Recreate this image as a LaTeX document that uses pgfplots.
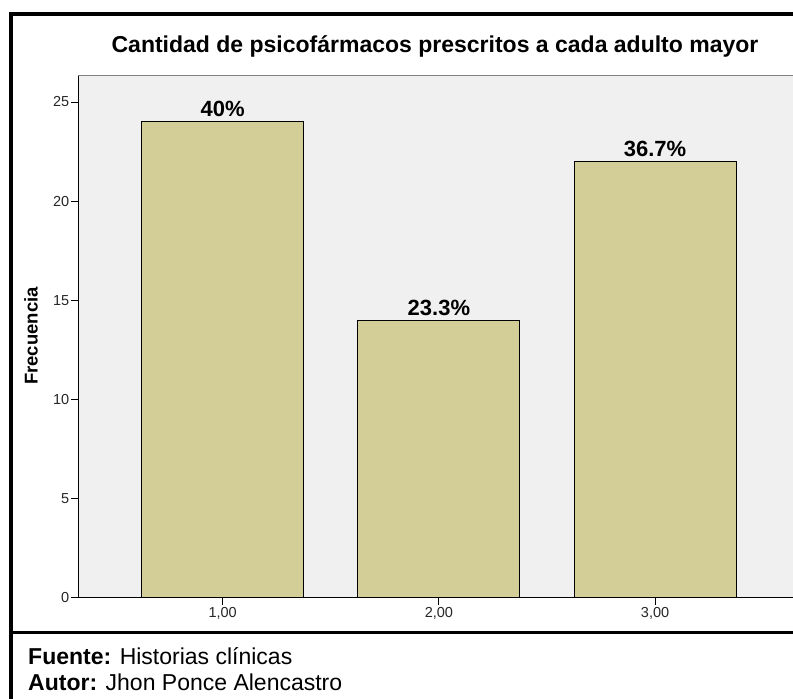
\documentclass[border=0pt]{standalone}
\usepackage{pgfplots}
\pgfplotsset{compat=1.18}
\usepackage{fontspec}
\setmainfont{Liberation Sans}
\definecolor{barcol}{RGB}{211,206,152}
\definecolor{bgcol}{RGB}{240,240,240}
\begin{document}
\begin{tikzpicture}[x=1pt,y=1pt]
\useasboundingbox (0,0) rectangle (793,-699);
\begin{axis}[at={(78pt,-597.7pt)}, anchor=south west, scale only axis,
  width=715pt, height=522.7pt,
  xmin=0.3307, xmax=3.638, ymin=0, ymax=26.36,
  ybar, bar width=162pt,
  axis x line*=bottom, axis y line*=left,
  axis line style={black, line width=0.9pt},
  axis background/.style={fill=bgcol},
  xtick={1,2,3}, xticklabels={{1,00},{2,00},{3,00}},
  ytick={0,5,10,15,20,25},
  tick align=outside, major tick length=7pt,
  tick style={black, line width=0.9pt},
  ticklabel style={font=\fontsize{14.5}{16}\selectfont, text=black!85},
  yticklabel style={inner sep=1.5pt},
  xticklabel style={inner sep=2pt},
  /pgf/number format/assume math mode=true,
  clip=false]
\addplot[fill=barcol, draw=black, line width=0.9pt,
  nodes near coords, point meta=explicit symbolic,
  nodes near coords style={font=\bfseries\fontsize{22}{26}\selectfont, anchor=base, inner sep=0pt, yshift=5pt}]
  coordinates {(1,24)[40\%] (2,14)[23.3\%] (3,22)[36.7\%]};
\draw[gray, line width=0.9pt] (rel axis cs:0,1) -- (rel axis cs:1,1);
\end{axis}
\draw[line width=3.5pt] (11,-699) -- (11,-14) -- (793,-14);
\draw[line width=3pt] (11,-632.5) -- (793,-632.5);
\node[anchor=base, inner sep=0pt, font=\bfseries\fontsize{23}{27}\selectfont] at (435,-52.7) {Cantidad de psicofármacos prescritos a cada adulto mayor};
\node[rotate=90, inner sep=0pt, font=\bfseries\fontsize{18.5}{21}\selectfont] at (31,-336) {Frecuencia};
\node[anchor=base west, inner sep=0pt, font=\fontsize{23}{27}\selectfont] at (28,-664) {\textbf{Fuente:} Historias clínicas};
\node[anchor=base west, inner sep=0pt, font=\fontsize{23}{27}\selectfont] at (28,-690.7) {\textbf{Autor:} Jhon Ponce Alencastro};
\end{tikzpicture}
\end{document}
